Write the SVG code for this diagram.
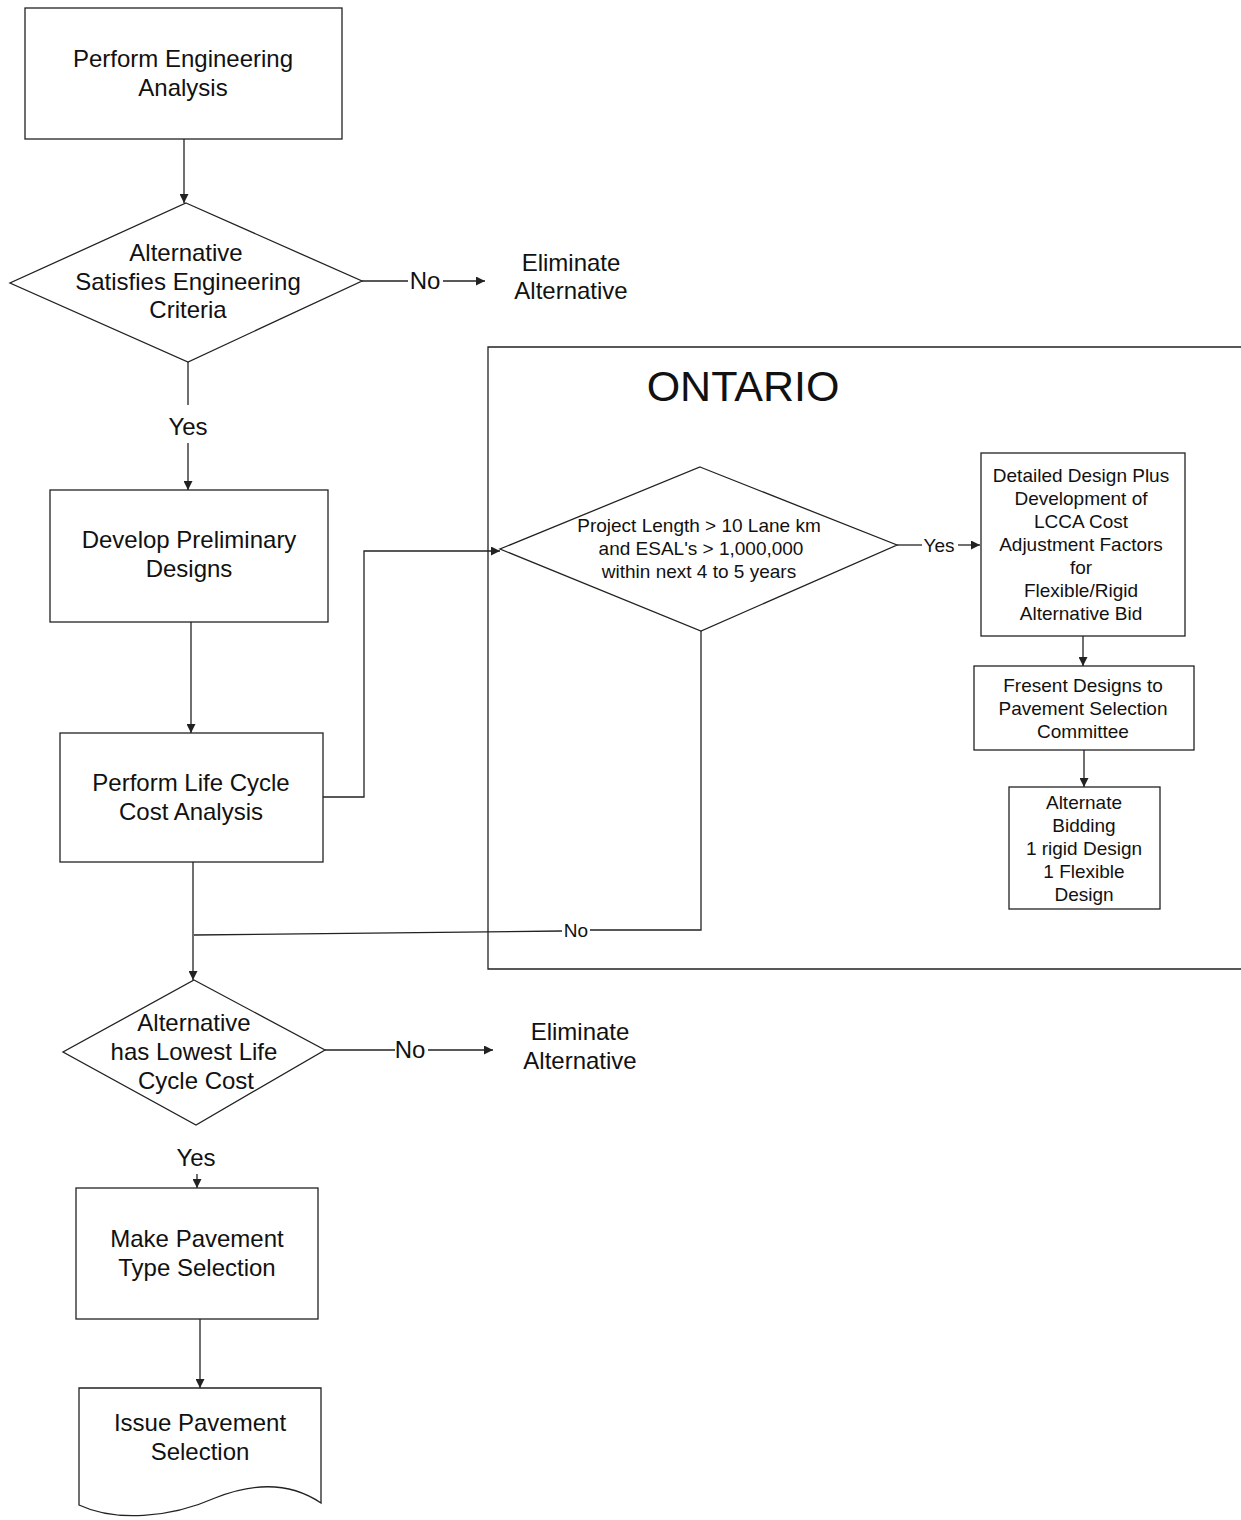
<svg xmlns="http://www.w3.org/2000/svg" width="1241" height="1520" viewBox="0 0 1241 1520">
<defs>
<marker id="ah" viewBox="0 0 10 10" refX="10" refY="5" markerWidth="9" markerHeight="9" markerUnits="userSpaceOnUse" orient="auto">
<path d="M0,0 L10,5 L0,10 Z" fill="#222"/>
</marker>
</defs>
<style>
.s{fill:#fff;stroke:#222;stroke-width:1.3}
.c{fill:none;stroke:#222;stroke-width:1.3}
.t{font-family:"Liberation Sans",Arial,sans-serif;font-size:24px;fill:#111;text-anchor:middle}
.m{font-family:"Liberation Sans",Arial,sans-serif;font-size:19px;fill:#111;text-anchor:middle}
.b{font-family:"Liberation Sans",Arial,sans-serif;font-size:43px;fill:#111;text-anchor:middle}
</style>
<rect width="1241" height="1520" fill="#fff"/>
<g id="ontario">
<path class="c" d="M1241,347 H488 V969 H1241"/>
<text class="b" x="743" y="401">ONTARIO</text>
</g>
<g id="connectors">
<path class="c" d="M184,139 V203" marker-end="url(#ah)"/>
<path class="c" d="M362,281 H408"/>
<text class="t" x="425" y="289">No</text>
<path class="c" d="M443,281 H485" marker-end="url(#ah)"/>
<path class="c" d="M188,362 V405"/>
<text class="t" x="188" y="435">Yes</text>
<path class="c" d="M188,443 V490" marker-end="url(#ah)"/>
<path class="c" d="M191,622 V733" marker-end="url(#ah)"/>
<path class="c" d="M323,797 H364 V551 H500" marker-end="url(#ah)"/>
<path class="c" d="M897,545 H922"/>
<text class="m" x="939" y="552">Yes</text>
<path class="c" d="M958,545 H980" marker-end="url(#ah)"/>
<path class="c" d="M1083,636 V666" marker-end="url(#ah)"/>
<path class="c" d="M1084,750 V787" marker-end="url(#ah)"/>
<path class="c" d="M701,631 V930 H590"/>
<text class="m" x="576" y="937">No</text>
<path class="c" d="M562,931 L194,935"/>
<path class="c" d="M193,862 V980" marker-end="url(#ah)"/>
<path class="c" d="M325,1050 H395"/>
<text class="t" x="410" y="1058">No</text>
<path class="c" d="M428,1050 H493" marker-end="url(#ah)"/>
<text class="t" x="196" y="1166">Yes</text>
<path class="c" d="M197,1174 V1188" marker-end="url(#ah)"/>
<path class="c" d="M200,1319 V1388" marker-end="url(#ah)"/>
</g>
<g id="n1">
<rect class="s" x="25" y="8" width="317" height="131"/>
<text class="t" x="183" y="67">Perform Engineering</text>
<text class="t" x="183" y="96">Analysis</text>
</g>
<g id="d1">
<path class="s" d="M186,203 L362,281 L188,362 L10,283 Z"/>
<text class="t" x="186" y="261">Alternative</text>
<text class="t" x="188" y="290">Satisfies Engineering</text>
<text class="t" x="188" y="318">Criteria</text>
</g>
<g id="e1">
<text class="t" x="571" y="271">Eliminate</text>
<text class="t" x="571" y="299">Alternative</text>
</g>
<g id="n2">
<rect class="s" x="50" y="490" width="278" height="132"/>
<text class="t" x="189" y="548">Develop Preliminary</text>
<text class="t" x="189" y="577">Designs</text>
</g>
<g id="n3">
<rect class="s" x="60" y="733" width="263" height="129"/>
<text class="t" x="191" y="791">Perform Life Cycle</text>
<text class="t" x="191" y="820">Cost Analysis</text>
</g>
<g id="d2">
<path class="s" d="M700,467 L897,545 L701,631 L500,549 Z"/>
<text class="m" x="699" y="532">Project Length &gt; 10 Lane km</text>
<text class="m" x="701" y="555">and ESAL's &gt; 1,000,000</text>
<text class="m" x="699" y="578">within next 4 to 5 years</text>
</g>
<g id="n4">
<rect class="s" x="981" y="453" width="204" height="183"/>
<text class="m" x="1081" y="482">Detailed Design Plus</text>
<text class="m" x="1081" y="505">Development of</text>
<text class="m" x="1081" y="528">LCCA Cost</text>
<text class="m" x="1081" y="551">Adjustment Factors</text>
<text class="m" x="1081" y="574">for</text>
<text class="m" x="1081" y="597">Flexible/Rigid</text>
<text class="m" x="1081" y="620">Alternative Bid</text>
</g>
<g id="n5">
<rect class="s" x="974" y="666" width="220" height="84"/>
<text class="m" x="1083" y="692">Fresent Designs to</text>
<text class="m" x="1083" y="715">Pavement Selection</text>
<text class="m" x="1083" y="738">Committee</text>
</g>
<g id="n6">
<rect class="s" x="1009" y="787" width="151" height="122"/>
<text class="m" x="1084" y="809">Alternate</text>
<text class="m" x="1084" y="832">Bidding</text>
<text class="m" x="1084" y="855">1 rigid Design</text>
<text class="m" x="1084" y="878">1 Flexible</text>
<text class="m" x="1084" y="901">Design</text>
</g>
<g id="d3">
<path class="s" d="M194,980 L325,1050 L196,1125 L63,1052 Z"/>
<text class="t" x="194" y="1031">Alternative</text>
<text class="t" x="194" y="1060">has Lowest Life</text>
<text class="t" x="196" y="1089">Cycle Cost</text>
</g>
<g id="e2">
<text class="t" x="580" y="1040">Eliminate</text>
<text class="t" x="580" y="1069">Alternative</text>
</g>
<g id="n7">
<rect class="s" x="76" y="1188" width="242" height="131"/>
<text class="t" x="197" y="1247">Make Pavement</text>
<text class="t" x="197" y="1276">Type Selection</text>
</g>
<g id="n8">
<path class="s" d="M79,1388 H321 V1503 C290,1482 255,1482 215,1498 C170,1518 115,1522 79,1505 Z"/>
<text class="t" x="200" y="1431">Issue Pavement</text>
<text class="t" x="200" y="1460">Selection</text>
</g>
</svg>
